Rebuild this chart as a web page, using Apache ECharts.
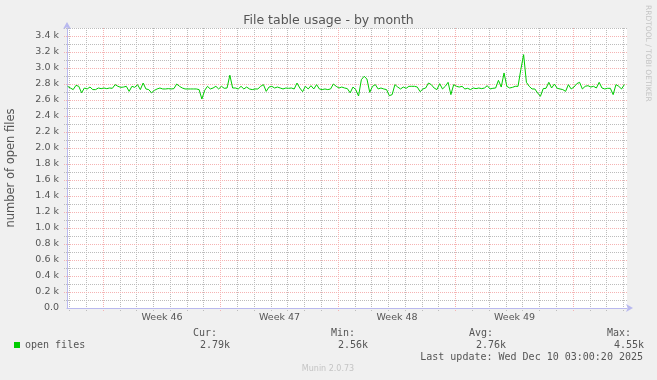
<!DOCTYPE html>
<html><head><meta charset="utf-8">
<script src="https://cdn.jsdelivr.net/npm/echarts@6/dist/echarts.min.js"></script>
<style>html,body{margin:0;padding:0;background:#f0f0f0}#c{width:657px;height:380px}</style>
</head><body><div id="c"></div>
<script>
const chartTitle = 'File table usage - by month';
const yName = 'number of open files';
const seriesName = 'open files';
const weekLabels = ['Week 46', 'Week 47', 'Week 48', 'Week 49'];
const weekStarts = [0, 7, 14, 21, 28];           // days (Mondays)
const yTicks = [0,200,400,600,800,1000,1200,1400,1600,1800,2000,2200,2400,2600,2800,3000,3200,3400];
const startHour = -51;    // first sample, hours from Monday of week 46
const stepHours = 4;      // sample spacing
const values = [
2771,2750,2730,2783,2771,2690,2750,2738,2762,2730,
2730,2750,2742,2750,2742,2750,2746,2792,2771,2758,
2762,2771,2708,2771,2758,2792,2730,2812,2738,2730,
2690,2720,2738,2750,2738,2738,2742,2738,2742,2800,
2771,2750,2738,2738,2738,2738,2738,2730,2612,2720,
2771,2738,2750,2771,2738,2771,2746,2750,2910,2750,
2750,2738,2771,2738,2762,2738,2730,2738,2738,2771,
2792,2708,2762,2771,2750,2762,2750,2738,2750,2746,
2750,2738,2812,2750,2704,2771,2738,2779,2738,2792,
2738,2730,2738,2730,2738,2800,2771,2750,2762,2750,
2742,2690,2762,2730,2650,2854,2896,2862,2696,2771,
2792,2738,2750,2738,2730,2654,2667,2792,2762,2738,
2762,2746,2771,2771,2771,2762,2704,2738,2750,2812,
2792,2750,2730,2804,2738,2771,2821,2667,2792,2771,
2762,2771,2738,2746,2730,2750,2742,2750,2742,2750,
2779,2738,2746,2750,2846,2762,2938,2771,2750,2758,
2771,2771,2980,3167,2821,2771,2738,2738,2688,2646,
2742,2746,2821,2750,2800,2746,2738,2730,2708,2792,
2738,2762,2804,2821,2738,2771,2779,2762,2771,2750,
2821,2750,2738,2746,2746,2667,2792,2771,2738,2792
];
const statLabels = ['Cur:', 'Min:', 'Avg:', 'Max:'];
const statValues = ['2.79k', '2.56k', '2.76k', '4.55k'];
const lastUpdate = 'Last update: Wed Dec 10 03:00:20 2025';
const footer = 'Munin 2.0.73';
const watermark = 'RRDTOOL / TOBI OETIKER';

const X_MIN = -2.16, X_MAX = 31.2, Y_MAX = 3500;
const RED = '#f5b3b3', GRAY = '#bcbcbc', AXIS = '#b9b9ef', TXT = '#555';
const SANS = '"DejaVu Sans", sans-serif', MONO = '"DejaVu Sans Mono", monospace';

const weekCenters = weekLabels.map((_, i) => weekStarts[i] + 3.5);
// grid line rows: [x, y, orientation (0 vertical, 1 horizontal), major flag]
const gridRows = [];
for (let d = Math.ceil(X_MIN); d <= Math.floor(X_MAX); d++) if (weekStarts.indexOf(d) < 0) gridRows.push([d, 0, 0, 0]);
for (let v = 100; v <= Y_MAX; v += 100) if (yTicks.indexOf(v) < 0) gridRows.push([X_MIN, v, 1, 0]);
weekStarts.forEach(d => gridRows.push([d, 0, 0, 1]));
yTicks.filter(v => v > 0).forEach(v => gridRows.push([X_MIN, v, 1, 1]));

const data = values.map((v, i) => [(startHour + i * stepHours) / 24, v]);

function renderGridLine(params, api) {
  const cs = params.coordSys;
  const vertical = api.value(2) === 0, major = api.value(3) === 1;
  let shape;
  if (vertical) {
    const p = api.coord([api.value(0), 0]);
    const x = Math.round(p[0] - 0.5) + 0.5;
    shape = {x1: x, y1: cs.y, x2: x, y2: cs.y + cs.height + 3};
  } else {
    const p = api.coord([X_MIN, api.value(1)]);
    const y = Math.round(p[1] - 0.5) + 0.5;
    shape = {x1: cs.x - 3, y1: y, x2: cs.x + cs.width, y2: y};
  }
  return {type: 'line', shape: shape, z2: major ? 2 : 1,
    style: {stroke: major ? RED : GRAY, lineWidth: 1, lineDash: [1, 1], fill: null}};
}

const graphics = [];
statLabels.forEach((s, k) => {
  const right = 217 + k * 138;
  graphics.push({type: 'text', x: right, y: 333, style: {text: s, font: '10px ' + MONO, fill: TXT, align: 'right', verticalAlign: 'middle', textAlign: 'right', textVerticalAlign: 'middle'}});
  graphics.push({type: 'text', x: right + 13, y: 345, style: {text: statValues[k], font: '10px ' + MONO, fill: TXT, align: 'right', verticalAlign: 'middle', textAlign: 'right', textVerticalAlign: 'middle'}});
});
graphics.push({type: 'text', x: 643, y: 357, style: {text: lastUpdate, font: '10px ' + MONO, fill: TXT, align: 'right', verticalAlign: 'middle', textAlign: 'right', textVerticalAlign: 'middle'}});
graphics.push({type: 'text', x: 328, y: 369, style: {text: footer, font: '8px ' + SANS, fill: '#c4c4c4', align: 'center', verticalAlign: 'middle', textAlign: 'center', textVerticalAlign: 'middle'}});
graphics.push({type: 'text', x: 648, y: 5, rotation: -Math.PI / 2, style: {text: watermark, font: '7.5px ' + SANS, fill: '#c4c4c4', align: 'left', verticalAlign: 'middle', textAlign: 'left', textVerticalAlign: 'middle'}});

const chart = echarts.init(document.getElementById('c'), null, {renderer: 'canvas'});
chart.setOption({
  animation: false,
  backgroundColor: '#f0f0f0',
  title: {text: chartTitle, left: 'center', top: 9, textStyle: {fontFamily: SANS, fontSize: 12.5, fontWeight: 'normal', color: TXT}},
  legend: {data: [seriesName], left: 14, top: 339, padding: 0, icon: 'rect', itemWidth: 6, itemHeight: 6, selectedMode: false,
    textStyle: {fontFamily: MONO, fontSize: 10, color: TXT, lineHeight: 12}},
  grid: {left: 67, right: 30, top: 28, bottom: 72, show: true, backgroundColor: '#ffffff', borderWidth: 0,
    containLabel: false, outerBoundsMode: 'none'},
  xAxis: {type: 'value', position: 'bottom', min: X_MIN, max: X_MAX, z: 3,
    axisLine: {show: true, onZero: false, lineStyle: {color: AXIS, width: 1}, symbol: ['none', 'arrow'], symbolSize: [6, 7], symbolOffset: [0, 6]},
    axisTick: {show: false},
    axisLabel: {show: true, customValues: weekCenters, margin: 5, fontFamily: SANS, fontSize: 9.5, color: TXT,
      formatter: v => weekLabels[Math.round((v - 3.5) / 7)] || ''},
    splitLine: {show: false}},
  yAxis: {type: 'value', position: 'left', min: 0, max: Y_MAX, z: 3,
    name: yName, nameLocation: 'middle', nameGap: 50,
    nameTextStyle: {fontFamily: SANS, fontSize: 11.5, color: TXT},
    axisLine: {show: true, onZero: false, lineStyle: {color: AXIS, width: 1}, symbol: ['none', 'arrow'], symbolSize: [6, 7], symbolOffset: [0, 6]},
    axisTick: {show: false},
    axisLabel: {show: true, customValues: yTicks, margin: 8, fontFamily: SANS, fontSize: 9.5, color: TXT,
      formatter: v => v === 0 ? '0.0' : (v / 1000).toFixed(1) + ' k'},
    splitLine: {show: false}},
  series: [
    {name: 'grid', type: 'custom', coordinateSystem: 'cartesian2d', data: gridRows, z: 1, silent: true,
      clip: false, encode: {x: 0, y: 1}, renderItem: renderGridLine},
    {name: seriesName, type: 'line', data: data, showSymbol: false, symbol: 'none', z: 5,
      lineStyle: {color: '#00cc00', width: 1}, itemStyle: {color: '#00cc00'}}
  ],
  graphic: graphics
});
</script></body></html>
